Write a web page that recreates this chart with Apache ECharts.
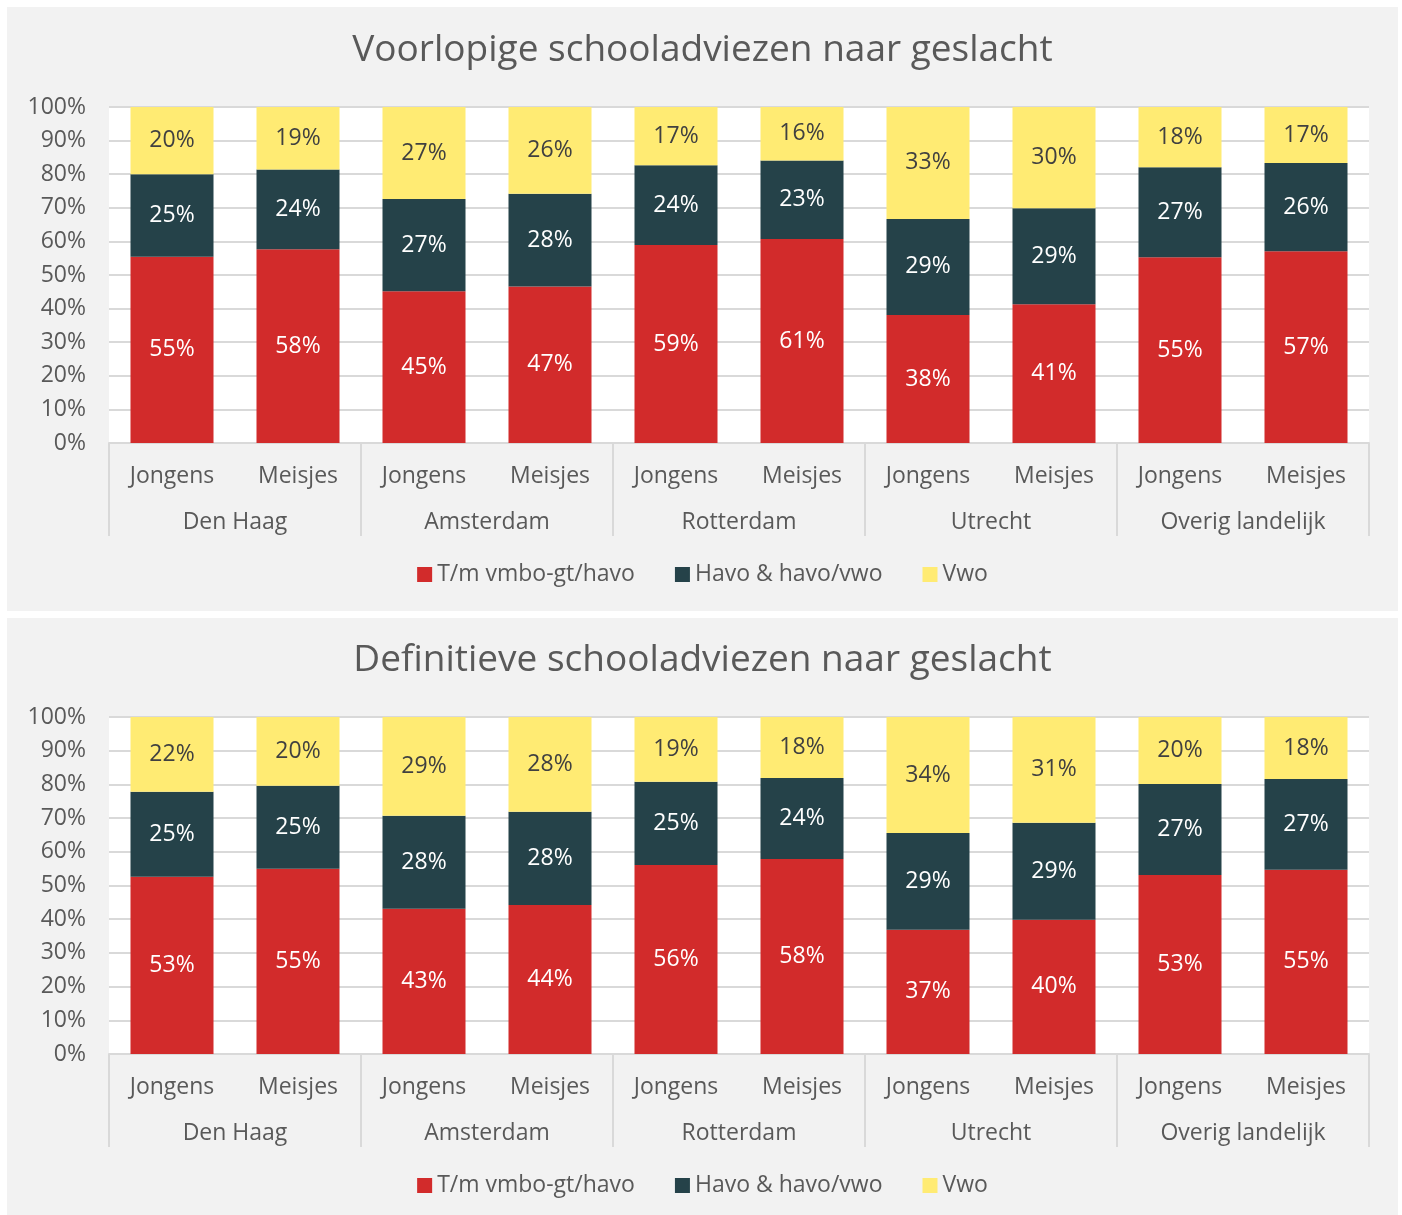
<!DOCTYPE html>
<html>
<head>
<meta charset="utf-8">
<script src="https://cdn.jsdelivr.net/npm/echarts@6/dist/echarts.min.js"></script>
<style>
  html, body { margin: 0; padding: 0; background: #fff; }
  body { width: 1402px; height: 1215px; position: relative; overflow: hidden; }
  .panel { position: absolute; left: 7px; width: 1391px; background: #f2f2f2; }
</style>
</head>
<body>
<div id="chartTop" class="panel" style="top:7px; height:604px"></div>
<div id="chartBottom" class="panel" style="top:618px; height:597px"></div>
<script>
var genders = ["Jongens", "Meisjes", "Jongens", "Meisjes", "Jongens", "Meisjes", "Jongens", "Meisjes", "Jongens", "Meisjes"];
var cities = ["Den Haag", "Amsterdam", "Rotterdam", "Utrecht", "Overig landelijk"];
var seriesNames = ["T/m vmbo-gt/havo", "Havo & havo/vwo", "Vwo"];
var yTicks = [0, 10, 20, 30, 40, 50, 60, 70, 80, 90, 100];

// voorlopig
var voorRed = [55.4, 57.7, 45.2, 46.6, 58.9, 60.7, 38.1, 41.3, 55.3, 57.1];
var voorHavo = [24.6, 23.7, 27.4, 27.6, 23.8, 23.4, 28.6, 28.6, 26.8, 26.2];
var voorVwo = [20.0, 18.6, 27.4, 25.8, 17.3, 15.9, 33.3, 30.1, 17.9, 16.7];

// definitief
var defRed = [52.6, 55.0, 43.1, 44.2, 56.1, 57.9, 36.9, 39.8, 53.1, 54.7];
var defHavo = [25.2, 24.6, 27.6, 27.7, 24.7, 24.0, 28.7, 28.8, 27.0, 26.9];
var defVwo = [22.2, 20.4, 29.3, 28.1, 19.2, 18.1, 34.4, 31.4, 19.9, 18.4];

var colors = ["#d22b2b", "#254249", "#ffeb73"];
var labelColors = ["#ffffff", "#ffffff", "#404040"];
var font = "Open Sans";

function mapFn(elId, title, gridTop, gridHeight, data) {
  var myChart = echarts.init(document.getElementById(elId));
  var series = [];
  for (var i = 0; i < 3; i++) {
    series.push({
      name: seriesNames[i],
      type: "bar",
      stack: "total",
      barWidth: 83,
      xAxisIndex: 0,
      itemStyle: { color: colors[i] },
      label: {
        show: true,
        position: "inside",
        color: labelColors[i],
        fontFamily: font,
        fontSize: 23,
        formatter: function (p) { return Math.round(p.value) + "%"; }
      },
      data: data[i]
    });
  }
  var option = {
    backgroundColor: "#f2f2f2",
    animation: false,
    title: {
      text: title,
      left: "center",
      top: gridTop - 80,
      textStyle: { color: "#595959", fontFamily: font, fontSize: 37, fontWeight: "normal" }
    },
    legend: {
      top: 551,
      left: "center",
      itemWidth: 15,
      itemHeight: 15,
      itemGap: 40,
      icon: "rect",
      textStyle: { color: "#595959", fontFamily: font, fontSize: 23, padding: [0, 0, 0, 0] },
      data: seriesNames
    },
    grid: {
      show: true,
      left: 102,
      top: gridTop,
      width: 1260,
      height: gridHeight,
      backgroundColor: "#ffffff",
      borderWidth: 0
    },
    xAxis: [
      {
        type: "category",
        data: genders,
        axisLine: { lineStyle: { color: "#d9d9d9", width: 2 } },
        axisTick: { show: false },
        axisLabel: { color: "#595959", fontFamily: font, fontSize: 23, margin: 22, interval: 0 }
      },
      {
        type: "category",
        data: cities,
        position: "bottom",
        axisLine: { show: false },
        axisTick: { show: true, length: 93, lineStyle: { color: "#d9d9d9", width: 2 } },
        axisLabel: { color: "#595959", fontFamily: font, fontSize: 23, margin: 68, interval: 0 }
      }
    ],
    yAxis: {
      type: "value",
      min: yTicks[0],
      max: yTicks[yTicks.length - 1],
      interval: 10,
      axisLine: { show: false },
      axisTick: { show: false },
      splitLine: { lineStyle: { color: "#d9d9d9", width: 2 } },
      axisLabel: { color: "#595959", fontFamily: font, fontSize: 23, margin: 23, formatter: "{value}%" }
    },
    series: series
  };
  myChart.setOption(option);
}

mapFn("chartTop", "Voorlopige schooladviezen naar geslacht", 100, 336, [voorRed, voorHavo, voorVwo]);
mapFn("chartBottom", "Definitieve schooladviezen naar geslacht", 99, 337, [defRed, defHavo, defVwo]);
</script>
</body>
</html>
